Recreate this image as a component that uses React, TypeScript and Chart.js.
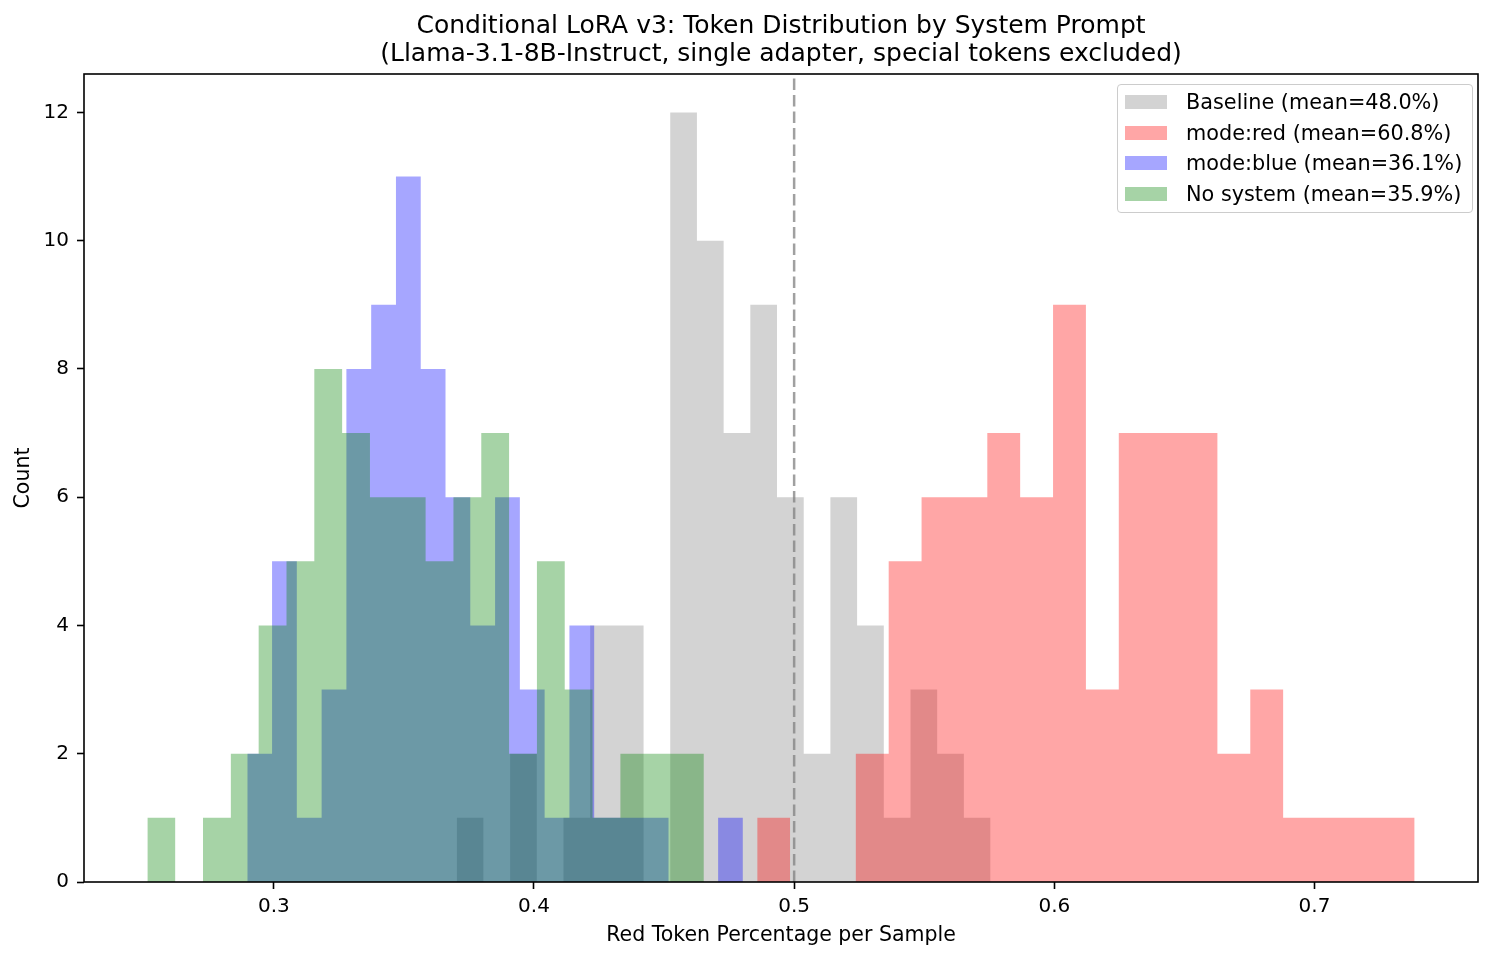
import { useEffect, useRef } from 'react'
import { Chart, registerables } from 'chart.js'

Chart.register(...registerables)

// histogram counts per bin (20 equal bins between each series' min and max)
const seriesLabels = [
  'Baseline (mean=48.0%)',
  'mode:red (mean=60.8%)',
  'mode:blue (mean=36.1%)',
  'No system (mean=35.9%)',
]
const seriesColors = [
  'rgba(128,128,128,0.35)',
  'rgba(255,0,0,0.35)',
  'rgba(0,0,255,0.35)',
  'rgba(0,128,0,0.35)',
]

const baselineCounts = [1, 0, 2, 0, 1, 4, 4, 0, 12, 10, 7, 9, 6, 2, 6, 4, 1, 3, 2, 1]
const redCounts      = [1, 0, 0, 2, 5, 6, 6, 7, 6, 9, 3, 7, 7, 7, 2, 3, 1, 1, 1, 1]
const blueCounts     = [2, 5, 1, 3, 8, 9, 11, 8, 6, 4, 6, 3, 1, 4, 1, 1, 1, 0, 0, 1]
const noSystemCounts = [1, 0, 1, 2, 4, 5, 8, 7, 6, 6, 5, 6, 7, 2, 5, 3, 1, 2, 2, 2]

// [min, max] of the samples of each series = outer bin edges
const baselineRange = [0.3703, 0.5755]
const redRange      = [0.4858, 0.7385]
const blueRange     = [0.2898, 0.4803]
const noSystemRange = [0.2514, 0.4653]

const xTicks = [0.3, 0.4, 0.5, 0.6, 0.7]
const yTicks = [0, 2, 4, 6, 8, 10, 12]
const threshold = 0.5

const titleLines = [
  'Conditional LoRA v3: Token Distribution by System Prompt',
  '(Llama-3.1-8B-Instruct, single adapter, special tokens excluded)',
]

const FONT = "'DejaVu Sans', sans-serif"

function histPoints(range: number[], counts: number[]) {
  const [lo, hi] = range
  const w = (hi - lo) / counts.length
  const pts = counts.map((c, i) => ({ x: lo + i * w, y: c }))
  pts.push({ x: hi, y: 0 })
  return pts
}

const thresholdLine = {
  id: 'thresholdLine',
  afterDatasetsDraw(chart: any) {
    const { ctx, chartArea, scales } = chart
    const x = scales.x.getPixelForValue(threshold)
    ctx.save()
    ctx.strokeStyle = 'rgba(128,128,128,0.75)'
    ctx.lineWidth = 2.5
    ctx.setLineDash([11.5, 5])
    ctx.beginPath()
    ctx.moveTo(x, chartArea.bottom)
    ctx.lineTo(x, chartArea.top)
    ctx.stroke()
    ctx.restore()
  },
}

// axes box + title centred over the plot area (like matplotlib)
const frame = {
  id: 'frame',
  afterDraw(chart: any) {
    const { ctx, chartArea: a } = chart
    ctx.save()
    ctx.strokeStyle = '#000'
    ctx.lineWidth = 1.6
    ctx.strokeRect(a.left, a.top, a.right - a.left, a.bottom - a.top)
    ctx.fillStyle = '#000'
    ctx.font = `25px ${FONT}`
    ctx.textAlign = 'center'
    ctx.textBaseline = 'alphabetic'
    const cx = (a.left + a.right) / 2
    titleLines.forEach((t, i) => ctx.fillText(t, cx, 33 + i * 28))
    ctx.restore()
  },
}

export default function App() {
  const canvasRef = useRef<HTMLCanvasElement>(null)
  const chartRef = useRef<Chart | null>(null)

  useEffect(() => {
    if (!canvasRef.current) return
    if (chartRef.current) chartRef.current.destroy()

    const ranges = [baselineRange, redRange, blueRange, noSystemRange]
    const counts = [baselineCounts, redCounts, blueCounts, noSystemCounts]
    const lo = Math.min(...ranges.map(r => r[0]))
    const hi = Math.max(...ranges.map(r => r[1]))
    const pad = (hi - lo) * 0.05
    const yMax = Math.max(...counts.flat()) * 1.05

    chartRef.current = new Chart(canvasRef.current, {
      type: 'line',
      data: {
        datasets: counts.map((c, i) => ({
          label: seriesLabels[i],
          data: histPoints(ranges[i], c),
          stepped: 'before' as const,
          fill: 'origin',
          backgroundColor: seriesColors[i],
          borderColor: 'rgba(0,0,0,0)',
          borderWidth: 0,
          pointRadius: 0,
          order: 4 - i,   // baseline drawn first, no-system last
        })),
      },
      options: {
        animation: false,
        responsive: true,
        maintainAspectRatio: false,
        layout: { padding: { left: 0, right: 16, top: 74, bottom: 0 } },
        plugins: {
          legend: { display: false },
          tooltip: { enabled: false },
          title: { display: false },
        },
        scales: {
          x: {
            type: 'linear',
            min: lo - pad,
            max: hi + pad,
            afterFit: (s: any) => { s.height = 77 },
            afterBuildTicks: (s: any) => { s.ticks = xTicks.map(v => ({ value: v })) },
            border: { display: false },
            grid: { drawOnChartArea: false, tickLength: 7, tickWidth: 1.6, tickColor: '#000' },
            ticks: {
              color: '#000',
              font: { family: FONT, size: 20 },
              padding: 6,
              maxRotation: 0,
              callback: v => Number(v).toFixed(1),
            },
            title: {
              display: true,
              text: 'Red Token Percentage per Sample',
              color: '#000',
              font: { family: FONT, size: 20.5 },
              padding: { top: 0, bottom: 11 },
            },
          },
          y: {
            min: 0,
            max: yMax,
            afterFit: (s: any) => { s.width = 84 },
            afterBuildTicks: (s: any) => { s.ticks = yTicks.map(v => ({ value: v })) },
            border: { display: false },
            grid: { drawOnChartArea: false, tickLength: 7, tickWidth: 1.6, tickColor: '#000' },
            ticks: {
              color: '#000',
              font: { family: FONT, size: 20 },
              padding: 8,
            },
            title: {
              display: true,
              text: 'Count',
              color: '#000',
              font: { family: FONT, size: 20.5 },
              padding: { top: 11, bottom: 0 },
            },
          },
        },
      },
      plugins: [thresholdLine, frame],
    })

    return () => { chartRef.current?.destroy() }
  }, [])

  return (
    <div style={{ position: 'absolute', left: 0, top: 0, width: 1494, height: 959, background: '#fff' }}>
      <canvas ref={canvasRef} role="img" aria-label="Token distribution histogram by system prompt" />
      <div
        style={{
          position: 'absolute', left: 1117, top: 84, width: 356, height: 129,
          boxSizing: 'border-box', border: '1px solid #cccccc', borderRadius: 4,
          background: 'rgba(255,255,255,0.8)', fontFamily: FONT,
        }}
      >
        {seriesLabels.map((label, i) => (
          <div key={label}>
            <div
              style={{
                position: 'absolute', left: 7, top: 17 + 30.5 * i - 7,
                width: 42, height: 14, background: seriesColors[i],
              }}
            />
            <div
              style={{
                position: 'absolute', left: 68, top: 17 + 30.5 * i - 12,
                fontSize: 20.8, lineHeight: '24px', color: '#000', whiteSpace: 'nowrap',
              }}
            >
              {label}
            </div>
          </div>
        ))}
      </div>
    </div>
  )
}
